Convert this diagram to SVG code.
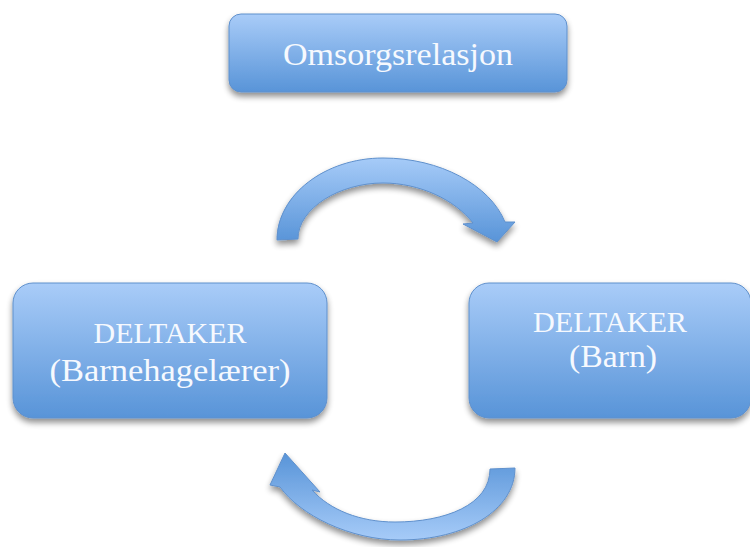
<svg xmlns="http://www.w3.org/2000/svg" width="750" height="547" viewBox="0 0 750 547">
<defs>
<linearGradient id="boxGrad" x1="0" y1="0" x2="0" y2="1">
<stop offset="0" stop-color="#a9ccf8"/>
<stop offset="1" stop-color="#5894d8"/>
</linearGradient>
<linearGradient id="arrowDown" x1="0" y1="0" x2="0" y2="1">
<stop offset="0" stop-color="#a6cbf8"/>
<stop offset="1" stop-color="#5894d8"/>
</linearGradient>
<linearGradient id="arrowUp" x1="0" y1="0" x2="0" y2="1">
<stop offset="0" stop-color="#5894d8"/>
<stop offset="1" stop-color="#a6cbf8"/>
</linearGradient>
<filter id="shadow" x="-10%" y="-10%" width="120%" height="130%">
<feGaussianBlur in="SourceAlpha" stdDeviation="3"/>
<feOffset dx="0" dy="4" result="b"/>
<feComponentTransfer><feFuncA type="linear" slope="0.45"/></feComponentTransfer>
<feMerge><feMergeNode/><feMergeNode in="SourceGraphic"/></feMerge>
</filter>
</defs>
<style>
.box { fill: url(#boxGrad); stroke: #5f90cc; stroke-width: 1; filter: url(#shadow); }
.label { font-family: "Liberation Serif", "DejaVu Serif", serif; fill: #f6f9fe; text-anchor: middle; }
.arrow { stroke: #5f90cc; stroke-width: 1; filter: url(#shadow); }
</style>
<rect width="750" height="547" fill="#ffffff"/>
<g id="node-omsorgsrelasjon">
<rect class="box" x="229" y="14" width="338" height="78" rx="12"/>
<text class="label" x="398" y="65" font-size="32" textLength="230" lengthAdjust="spacingAndGlyphs">Omsorgsrelasjon</text>
</g>
<g id="node-barnehagelaerer">
<rect class="box" x="13" y="283" width="314" height="135" rx="20"/>
<text class="label" x="170" y="343" font-size="30" textLength="153" lengthAdjust="spacingAndGlyphs">DELTAKER</text>
<text class="label" x="170" y="381" font-size="31" textLength="241" lengthAdjust="spacingAndGlyphs">(Barnehagelærer)</text>
</g>
<g id="node-barn">
<rect class="box" x="469" y="283" width="282" height="135" rx="20"/>
<text class="label" x="610" y="332" font-size="30" textLength="154" lengthAdjust="spacingAndGlyphs">DELTAKER</text>
<text class="label" x="613" y="367" font-size="31" textLength="88" lengthAdjust="spacingAndGlyphs">(Barn)</text>
</g>
<g id="connectors">
<path class="arrow" fill="url(#arrowDown)" d="M277,240 C277,195 325,158 383,158 C440,158 490,185 505,222 L515,222 L497,242 L463,224 L473,223 C455,200 420,183 383,183 C340,183 298,208 298,239 Z"/>
<path class="arrow" fill="url(#arrowUp)" d="M515,468 C515,510 465,540 400,540 C350,540 300,515 280,487 L270,485 L285,453 L320,492 L312,490 C330,510 360,522 395,522 C445,522 490,505 490,469 Z"/>
</g>
</svg>
